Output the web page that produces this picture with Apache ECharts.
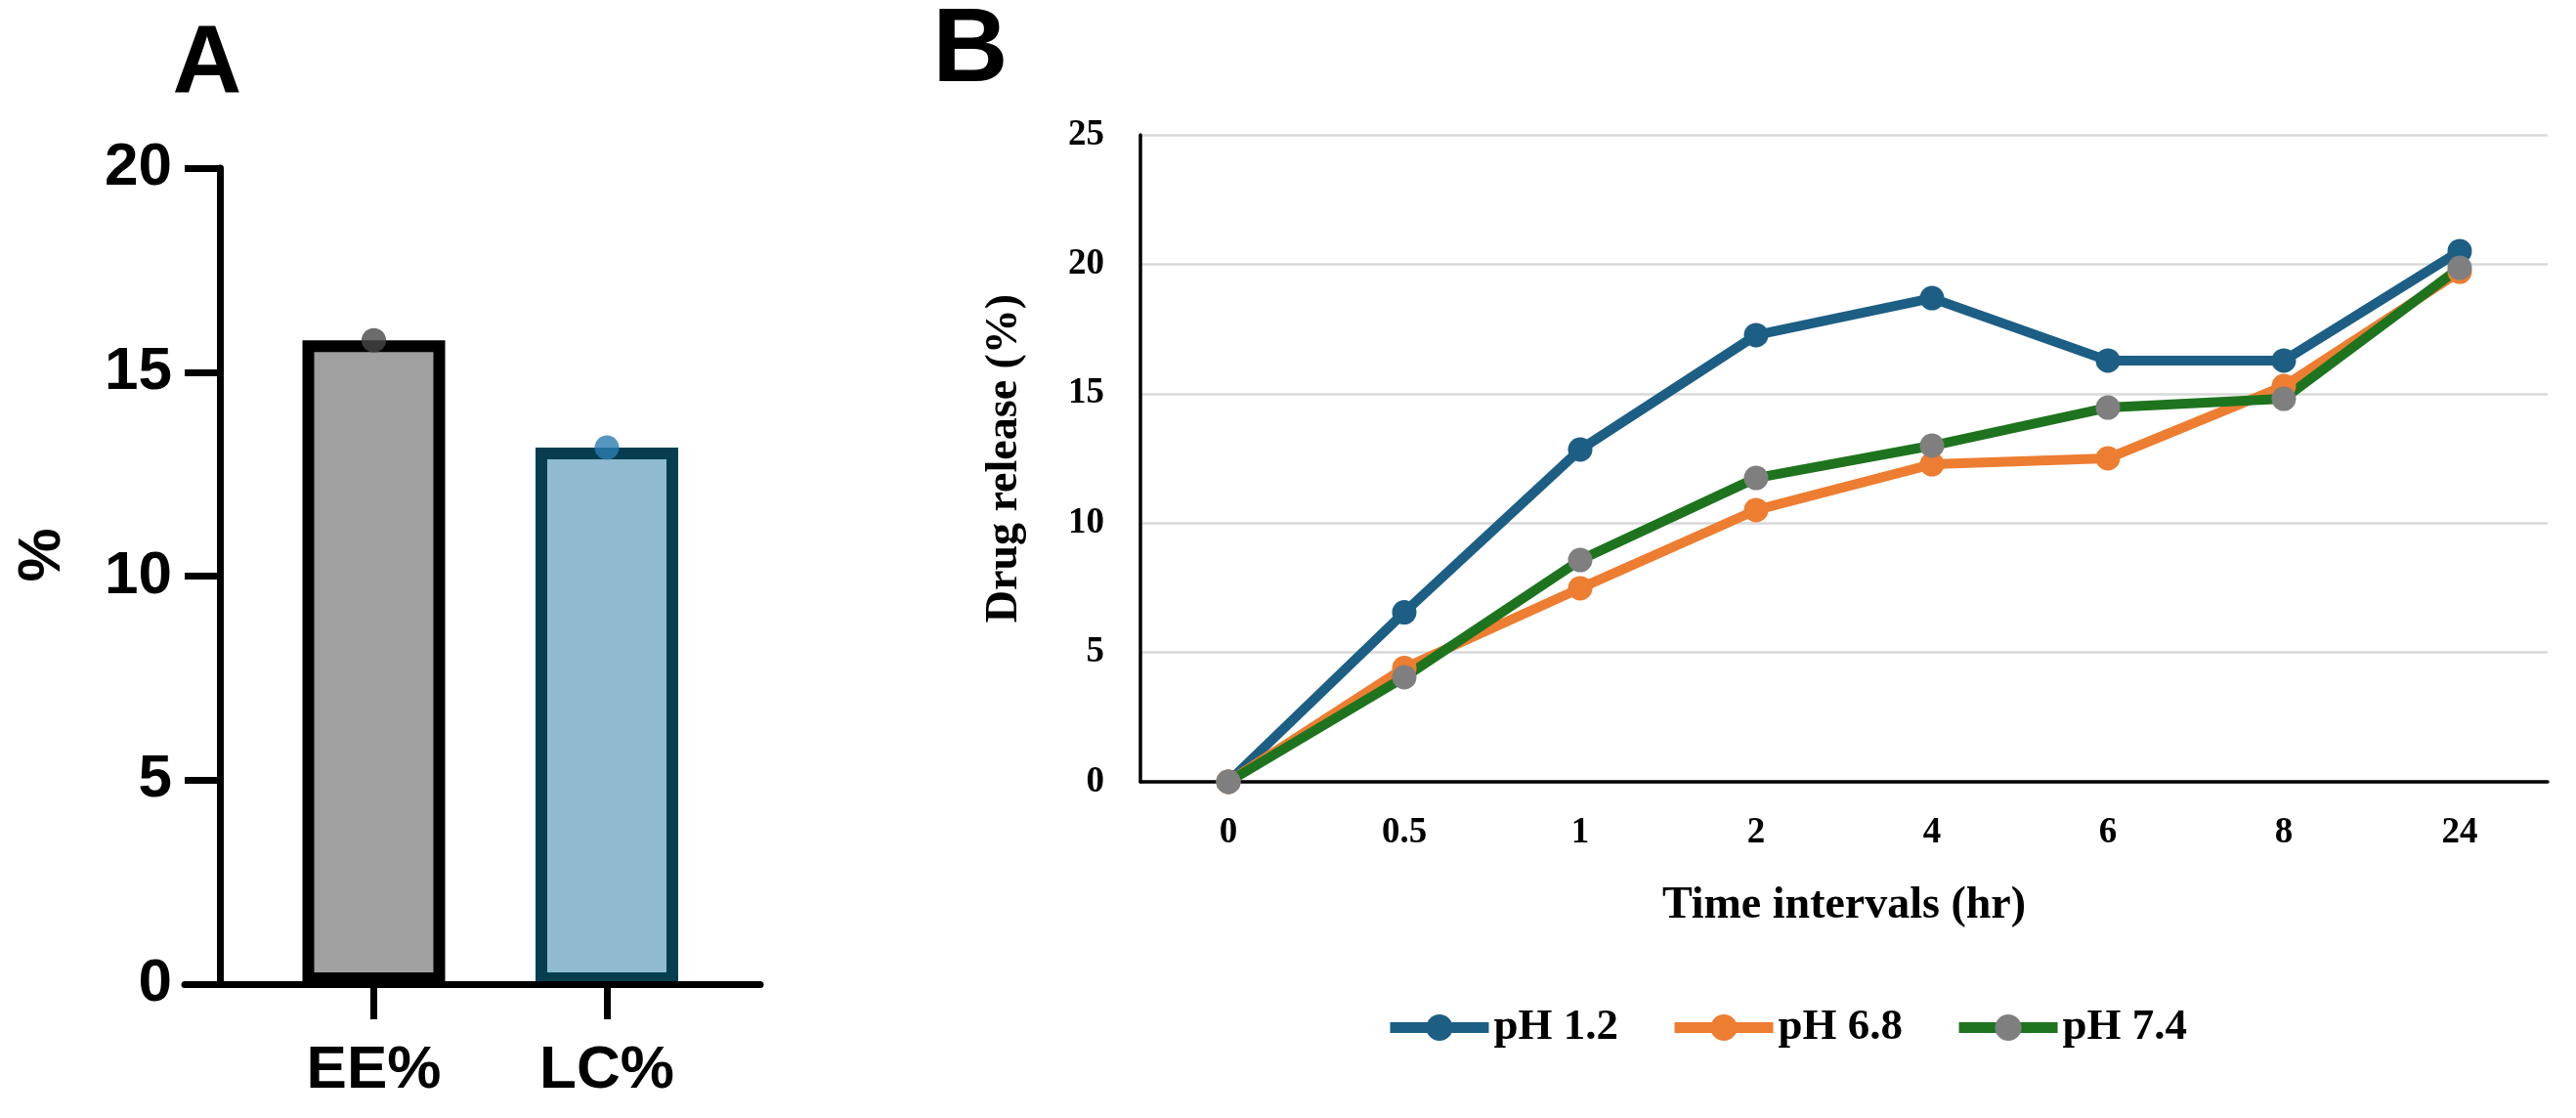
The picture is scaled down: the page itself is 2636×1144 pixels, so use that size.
<!DOCTYPE html>
<html>
<head>
<meta charset="utf-8">
<script src="https://cdn.jsdelivr.net/npm/echarts@6/dist/echarts.min.js"></script>
<style>
html,body{margin:0;padding:0;background:#fff;}
#chart{width:2636px;height:1144px;}
</style>
</head>
<body>
<div id="chart"></div>
<script>
// Panel A data
const categoriesA = ['EE%', 'LC%'];
const valuesA = [15.78, 13.15];
const yTicksA = [0, 5, 10, 15, 20];

// Panel B data
const timeLabels = ['0', '0.5', '1', '2', '4', '6', '8', '24'];
const ph12 = [0, 6.55, 12.84, 17.26, 18.69, 16.28, 16.28, 20.51];
const ph68 = [0, 4.4, 7.48, 10.50, 12.27, 12.50, 15.29, 19.71];
const ph74 = [0, 4.04, 8.57, 11.74, 12.99, 14.46, 14.80, 19.86];
const seriesNamesB = ['pH 1.2', 'pH 6.8', 'pH 7.4'];

const sans = '"Liberation Sans", Arial, sans-serif';
const serif = '"Liberation Serif", "Times New Roman", serif';

const chart = echarts.init(document.getElementById('chart'), null, {renderer: 'canvas'});

const option = {
  backgroundColor: '#ffffff',
  animation: false,
  graphic: [
    {type: 'text', x: 212, y: 67, style: {text: 'A', font: 'bold 98px ' + sans, fill: '#000', textAlign: 'center', textVerticalAlign: 'middle'}},
    {type: 'text', x: 993, y: 53, style: {text: 'B', font: 'bold 107px ' + sans, fill: '#000', textAlign: 'center', textVerticalAlign: 'middle'}}
  ],
  grid: [
    {left: 263.25, width: 477, top: 172, height: 835},
    {left: 189, width: 589, top: 172, height: 835},
    {left: 1167, width: 1440, top: 138, height: 662}
  ],
  legend: {
    data: seriesNamesB,
    left: 1412,
    top: 1024,
    itemWidth: 101,
    itemHeight: 34,
    itemGap: 52,
    lineStyle: {width: 11},
    textStyle: {fontFamily: serif, fontWeight: 'bold', fontSize: 45, color: '#000'}
  },
  xAxis: [
    {
      type: 'category', gridIndex: 0, data: categoriesA, z: 5,
      axisLine: {show: false},
      axisTick: {show: true, alignWithLabel: true, length: 36, lineStyle: {color: '#000', width: 7}},
      axisLabel: {margin: 58, fontFamily: sans, fontWeight: 'bold', fontSize: 62, color: '#000'},
      splitLine: {show: false}
    },
    {
      type: 'value', gridIndex: 1, min: 0, max: 1, z: 5,
      axisLine: {show: true, onZero: false, lineStyle: {color: '#000', width: 7}},
      axisTick: {show: false}, axisLabel: {show: false}, splitLine: {show: false}
    },
    {
      type: 'category', gridIndex: 2, data: timeLabels, boundaryGap: true,
      axisLine: {show: true, lineStyle: {color: '#000', width: 3.5}},
      axisTick: {show: false},
      axisLabel: {margin: 34, fontFamily: serif, fontWeight: 'bold', fontSize: 37, color: '#000'},
      splitLine: {show: false},
      name: 'Time intervals (hr)', nameLocation: 'middle', nameGap: 104,
      nameTextStyle: {fontFamily: serif, fontWeight: 'bold', fontSize: 46, color: '#000'}
    }
  ],
  yAxis: [
    {
      type: 'value', gridIndex: 0, min: yTicksA[0], max: yTicksA[yTicksA.length - 1], interval: 5, offset: 38.25, z: 5,
      axisLine: {show: true, lineStyle: {color: '#000', width: 7}},
      axisTick: {show: true, length: 36, lineStyle: {color: '#000', width: 7}},
      axisLabel: {margin: 49, fontFamily: sans, fontWeight: 'bold', fontSize: 62, color: '#000'},
      splitLine: {show: false},
      name: '%', nameLocation: 'middle', nameGap: 150, nameRotate: 90,
      nameTextStyle: {fontFamily: sans, fontWeight: 'bold', fontSize: 62, color: '#000', padding: [0, 0, 0, 43]}
    },
    {
      type: 'value', gridIndex: 1, min: 0, max: 1, show: false
    },
    {
      type: 'value', gridIndex: 2, min: 0, max: 25, interval: 5,
      axisLine: {show: true, lineStyle: {color: '#000', width: 3.5}},
      axisTick: {show: false},
      axisLabel: {margin: 37, fontFamily: serif, fontWeight: 'bold', fontSize: 37, color: '#000'},
      splitLine: {show: true, lineStyle: {color: '#d9d9d9', width: 2.5}},
      name: 'Drug release (%)', nameLocation: 'middle', nameGap: 116, nameRotate: 90,
      nameTextStyle: {fontFamily: serif, fontWeight: 'bold', fontSize: 46, color: '#000'}
    }
  ],
  series: [
    {
      type: 'bar', xAxisIndex: 0, yAxisIndex: 0, barWidth: 146, z: 2,
      data: valuesA.map((v, i) => ({
        value: v,
        itemStyle: i === 0
          ? {color: '#a0a0a0', borderColor: '#000000', borderWidth: 12}
          : {color: '#8fbad0', borderColor: '#063e50', borderWidth: 12}
      }))
    },
    {
      type: 'scatter', xAxisIndex: 0, yAxisIndex: 0, symbol: 'circle', symbolSize: 25, z: 4,
      data: valuesA.map((v, i) => ({
        value: v,
        itemStyle: {color: i === 0 ? '#474747' : '#2a7db0'}
      }))
    },
    {
      name: seriesNamesB[0], type: 'line', xAxisIndex: 2, yAxisIndex: 2, data: ph12,
      symbol: 'circle', symbolSize: 25, showAllSymbol: true,
      lineStyle: {color: '#1d5e84', width: 10}, itemStyle: {color: '#1d5e84'}
    },
    {
      name: seriesNamesB[1], type: 'line', xAxisIndex: 2, yAxisIndex: 2, data: ph68,
      symbol: 'circle', symbolSize: 25, showAllSymbol: true,
      lineStyle: {color: '#ed7d31', width: 10}, itemStyle: {color: '#ed7d31'}
    },
    {
      name: seriesNamesB[2], type: 'line', xAxisIndex: 2, yAxisIndex: 2, data: ph74,
      symbol: 'circle', symbolSize: 25, showAllSymbol: true,
      lineStyle: {color: '#1e741e', width: 10}, itemStyle: {color: '#7f7f7f'}
    }
  ]
};
chart.setOption(option);
</script>
</body>
</html>
